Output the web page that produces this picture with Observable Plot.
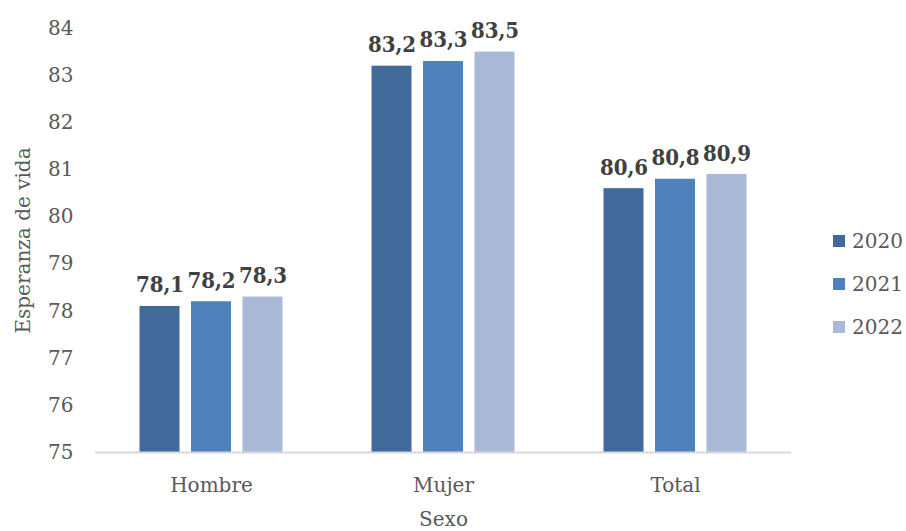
<!DOCTYPE html>
<html>
<head>
<meta charset="utf-8">
<script src="https://cdn.jsdelivr.net/npm/d3@7"></script>
<script src="https://cdn.jsdelivr.net/npm/@observablehq/plot@0.6"></script>
<style>
  body { margin: 0; background: #fff; }
  #wrap { position: relative; width: 906px; height: 531px; font-family: "DejaVu Serif", serif; }
  #legend { position: absolute; left: 833px; top: 227px; color: #595959; font-size: 20px; }
  #legend .item { display: flex; align-items: center; height: 28px; margin-bottom: 15px; }
  #legend .sw { width: 12px; height: 12px; margin-right: 7px; }
</style>
</head>
<body>
<div id="wrap"><div id="legend"></div></div>
<script>
// Esperanza de vida por sexo, 2020–2022
const sexos = ["Hombre", "Mujer", "Total"];
const years = ["2020", "2021", "2022"];
const values2020 = [78.1, 83.2, 80.6];
const values2021 = [78.2, 83.3, 80.8];
const values2022 = [78.3, 83.5, 80.9];
const yTicks = [75, 76, 77, 78, 79, 80, 81, 82, 83, 84];
const colors = ["#41699a", "#4f81bd", "#aab9d7"];

const series = [values2020, values2021, values2022];
const data = [];
sexos.forEach((s, i) => years.forEach((y, j) => data.push({sexo: s, year: y, value: series[j][i]})));
const base = yTicks[0];
const fmt = (v) => v.toFixed(1).replace(".", ",");

const chart = Plot.plot({
  width: 906,
  height: 531,
  marginLeft: 94,
  marginRight: 115,
  marginTop: 28,
  marginBottom: 79,
  style: {fontFamily: "'DejaVu Serif', serif", fontSize: "20px", color: "#595959", background: "#fff"},
  fx: {domain: sexos, padding: 0, label: "Sexo", labelAnchor: "center", labelArrow: false, labelOffset: 73, tickSize: 0, tickPadding: 25},
  x: {domain: years, paddingInner: 0.223, paddingOuter: 0.864, round: false, axis: null},
  y: {domain: [yTicks[0], yTicks[yTicks.length - 1]], ticks: yTicks, tickFormat: (d) => String(d), tickSize: 0, tickPadding: 22,
      label: "Esperanza de vida", labelAnchor: "center", labelArrow: false, labelOffset: 80},
  color: {domain: years, range: colors},
  marks: [
    Plot.barY(data, {fx: "sexo", x: "year", y1: base, y2: "value", fill: "year"}),
    Plot.ruleY([base], {stroke: "#d9d9d9", strokeWidth: 2}),
    Plot.text(data, {fx: "sexo", x: "year", y: "value", text: (d) => fmt(d.value), dy: -14, lineAnchor: "bottom",
      fontWeight: "bold", fontSize: 22, fill: "#404040", fontFamily: "'DejaVu Serif Condensed', 'DejaVu Serif', serif"})
  ]
});
document.getElementById("wrap").prepend(chart);

const legend = document.getElementById("legend");
years.forEach((y, i) => {
  const item = document.createElement("div");
  item.className = "item";
  item.innerHTML = `<span class="sw" style="background:${colors[i]}"></span><span>${y}</span>`;
  legend.appendChild(item);
});
</script>
</body>
</html>
